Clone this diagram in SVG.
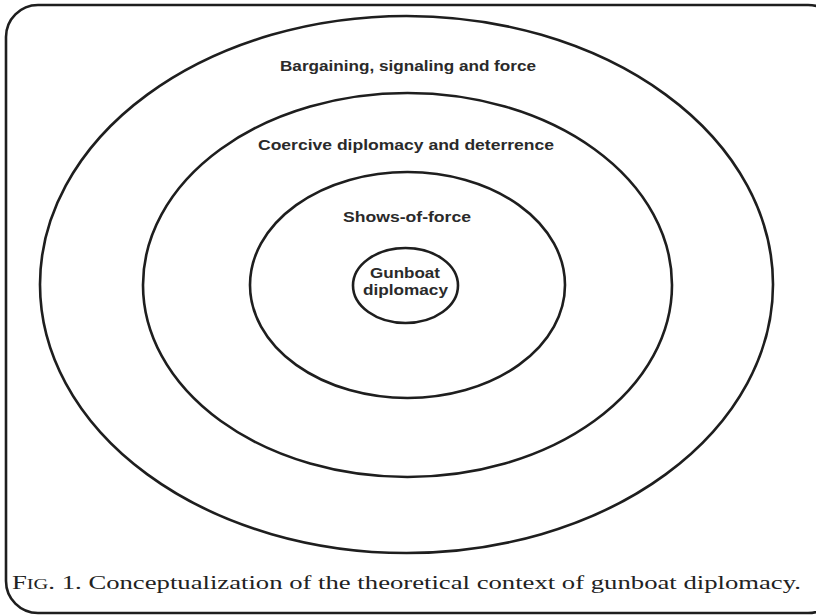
<svg xmlns="http://www.w3.org/2000/svg" width="816" height="616" viewBox="0 0 816 616">
<style>
.ring{fill:none;stroke:#1e1e1e;stroke-width:2.6}
.lbl{font-family:"Liberation Sans",Arial,sans-serif;font-size:15.5px;font-weight:bold;fill:#2a2a2a;text-anchor:middle}
.cap{font-family:"Liberation Serif","Times New Roman",serif;font-size:19px;fill:#222}
</style>
<rect x="0" y="0" width="816" height="616" fill="#ffffff"/>
<rect x="6" y="5" width="834" height="608" rx="32" ry="32" fill="none" stroke="#1e1e1e" stroke-width="2.6"/>
<g id="bargaining">
<ellipse class="ring" cx="406.5" cy="284.5" rx="366.5" ry="268.5"/>
<text class="lbl" x="408" y="71" textLength="256" lengthAdjust="spacingAndGlyphs">Bargaining, signaling and force</text>
</g>
<g id="coercive">
<ellipse class="ring" cx="407.5" cy="285" rx="264.5" ry="192"/>
<text class="lbl" x="406" y="150" textLength="296" lengthAdjust="spacingAndGlyphs">Coercive diplomacy and deterrence</text>
</g>
<g id="shows">
<ellipse class="ring" cx="407.5" cy="285" rx="157.5" ry="113"/>
<text class="lbl" x="407" y="222" textLength="128" lengthAdjust="spacingAndGlyphs">Shows-of-force</text>
</g>
<g id="gunboat">
<ellipse class="ring" cx="405.5" cy="285.5" rx="52.5" ry="37.5"/>
<text class="lbl" x="405" y="278" textLength="70" lengthAdjust="spacingAndGlyphs">Gunboat</text>
<text class="lbl" x="405.5" y="295" textLength="85" lengthAdjust="spacingAndGlyphs">diplomacy</text>
</g>
<g id="connectors"></g>
<text class="cap" x="12" y="589" textLength="789" lengthAdjust="spacingAndGlyphs">F<tspan font-size="14.5">IG</tspan>. 1. Conceptualization of the theoretical context of gunboat diplomacy.</text>
</svg>
